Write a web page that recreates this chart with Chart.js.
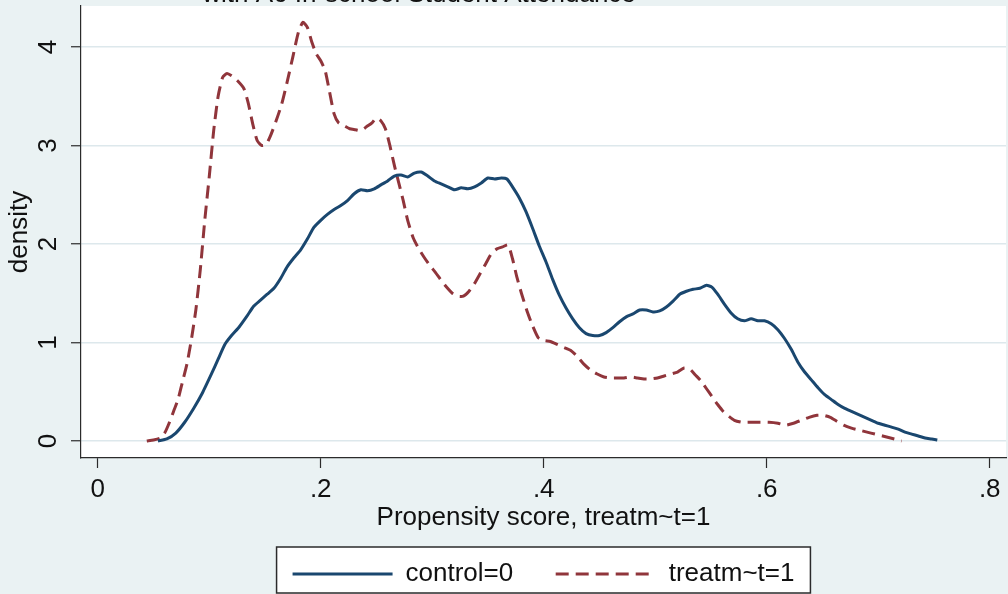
<!DOCTYPE html>
<html>
<head>
<meta charset="utf-8">
<script src="https://cdn.jsdelivr.net/npm/chart.js@4"></script>
<style>
  html, body { margin: 0; padding: 0; background: #eaf2f3; }
  #wrap { width: 1008px; height: 594px; }
</style>
</head>
<body>
<div id="wrap"><canvas id="density_chart" width="1008" height="594"></canvas></div>
<script>
// kernel density of the propensity score
const control_x = [0.054, 0.062, 0.070, 0.078, 0.086, 0.094, 0.102, 0.108, 0.114, 0.120, 0.127, 0.134, 0.140, 0.146, 0.152, 0.158, 0.164, 0.170, 0.176, 0.182, 0.188, 0.194, 0.200, 0.206, 0.212, 0.218, 0.224, 0.230, 0.236, 0.242, 0.248, 0.254, 0.260, 0.266, 0.272, 0.278, 0.284, 0.290, 0.296, 0.302, 0.308, 0.314, 0.320, 0.326, 0.332, 0.338, 0.344, 0.350, 0.356, 0.362, 0.367, 0.372, 0.378, 0.384, 0.390, 0.396, 0.402, 0.408, 0.414, 0.420, 0.426, 0.432, 0.438, 0.444, 0.450, 0.456, 0.462, 0.468, 0.474, 0.480, 0.486, 0.492, 0.498, 0.504, 0.510, 0.516, 0.522, 0.528, 0.534, 0.540, 0.546, 0.551, 0.556, 0.562, 0.568, 0.574, 0.580, 0.586, 0.592, 0.598, 0.604, 0.610, 0.616, 0.622, 0.628, 0.634, 0.640, 0.646, 0.652, 0.658, 0.664, 0.670, 0.676, 0.682, 0.688, 0.694, 0.700, 0.706, 0.712, 0.718, 0.724, 0.730, 0.736, 0.742, 0.748, 0.753];
const control_y = [0.00, 0.02, 0.08, 0.19, 0.33, 0.49, 0.68, 0.83, 0.98, 1.07, 1.16, 1.27, 1.37, 1.43, 1.49, 1.55, 1.65, 1.77, 1.86, 1.94, 2.05, 2.17, 2.24, 2.30, 2.35, 2.39, 2.44, 2.51, 2.55, 2.54, 2.56, 2.60, 2.64, 2.69, 2.70, 2.68, 2.72, 2.73, 2.69, 2.64, 2.61, 2.58, 2.55, 2.57, 2.56, 2.58, 2.62, 2.67, 2.66, 2.67, 2.66, 2.58, 2.47, 2.33, 2.16, 1.98, 1.82, 1.64, 1.48, 1.35, 1.24, 1.15, 1.09, 1.07, 1.07, 1.10, 1.15, 1.21, 1.26, 1.29, 1.33, 1.33, 1.31, 1.32, 1.36, 1.42, 1.49, 1.52, 1.54, 1.55, 1.58, 1.56, 1.49, 1.39, 1.30, 1.24, 1.22, 1.24, 1.22, 1.22, 1.19, 1.13, 1.04, 0.93, 0.80, 0.70, 0.62, 0.54, 0.47, 0.42, 0.37, 0.33, 0.30, 0.27, 0.24, 0.21, 0.18, 0.16, 0.14, 0.12, 0.09, 0.07, 0.05, 0.03, 0.02, 0.01];

const treat_x = [0.044, 0.050, 0.056, 0.060, 0.064, 0.068, 0.072, 0.076, 0.080, 0.084, 0.088, 0.092, 0.096, 0.100, 0.104, 0.108, 0.112, 0.116, 0.121, 0.126, 0.131, 0.135, 0.139, 0.143, 0.147, 0.151, 0.155, 0.160, 0.165, 0.170, 0.175, 0.180, 0.184, 0.188, 0.192, 0.196, 0.200, 0.204, 0.208, 0.212, 0.216, 0.221, 0.226, 0.231, 0.236, 0.241, 0.246, 0.250, 0.254, 0.258, 0.262, 0.266, 0.270, 0.274, 0.278, 0.283, 0.288, 0.293, 0.298, 0.303, 0.308, 0.313, 0.318, 0.323, 0.328, 0.333, 0.338, 0.343, 0.348, 0.353, 0.358, 0.363, 0.368, 0.372, 0.376, 0.380, 0.385, 0.390, 0.395, 0.400, 0.406, 0.412, 0.418, 0.424, 0.430, 0.436, 0.442, 0.448, 0.454, 0.460, 0.466, 0.472, 0.478, 0.484, 0.490, 0.496, 0.502, 0.508, 0.514, 0.520, 0.526, 0.531, 0.536, 0.541, 0.546, 0.551, 0.556, 0.561, 0.566, 0.571, 0.578, 0.586, 0.594, 0.602, 0.610, 0.617, 0.624, 0.631, 0.638, 0.645, 0.651, 0.657, 0.663, 0.669, 0.676, 0.683, 0.690, 0.697, 0.704, 0.711, 0.718, 0.721];
const treat_y = [0.00, 0.01, 0.03, 0.08, 0.18, 0.30, 0.42, 0.60, 0.78, 1.03, 1.33, 1.74, 2.24, 2.68, 3.15, 3.50, 3.69, 3.73, 3.70, 3.65, 3.58, 3.43, 3.22, 3.05, 3.00, 3.01, 3.10, 3.25, 3.42, 3.65, 3.90, 4.15, 4.25, 4.20, 4.05, 3.93, 3.86, 3.76, 3.54, 3.32, 3.23, 3.20, 3.17, 3.16, 3.15, 3.19, 3.23, 3.28, 3.25, 3.17, 3.00, 2.80, 2.62, 2.44, 2.24, 2.06, 1.95, 1.86, 1.78, 1.71, 1.63, 1.56, 1.50, 1.47, 1.47, 1.52, 1.60, 1.70, 1.80, 1.90, 1.95, 1.97, 1.99, 1.85, 1.66, 1.50, 1.32, 1.17, 1.05, 1.02, 1.01, 0.98, 0.95, 0.92, 0.86, 0.78, 0.72, 0.68, 0.65, 0.64, 0.64, 0.64, 0.65, 0.64, 0.63, 0.63, 0.64, 0.66, 0.68, 0.70, 0.74, 0.73, 0.67, 0.61, 0.53, 0.45, 0.37, 0.30, 0.25, 0.21, 0.19, 0.19, 0.19, 0.19, 0.18, 0.16, 0.18, 0.21, 0.24, 0.26, 0.26, 0.24, 0.20, 0.16, 0.13, 0.11, 0.09, 0.07, 0.05, 0.03, 0.01, 0.00];

const series_labels = ['control=0', 'treatm~t=1'];
const x_ticks = [0, 0.2, 0.4, 0.6, 0.8];
const x_tick_labels = ['0', '.2', '.4', '.6', '.8'];
const y_ticks = [0, 1, 2, 3, 4];
const chart_title = 'with A6 In-school Student Attendance';

const font_family = "'Liberation Sans', Arial, Helvetica, sans-serif";
const outer_bg = '#eaf2f3';
const axis_color = '#2b2b2b';

const to_points = (xs, ys) => xs.map((x, i) => ({x: x, y: ys[i]}));

// Stata look: bluish outer region, white plot region, boxed legend, clipped title
const stata_look = {
  id: 'stata_look',
  beforeDraw(chart) {
    const {ctx, chartArea: a} = chart;
    ctx.save();
    ctx.fillStyle = outer_bg;
    ctx.fillRect(0, 0, chart.width, chart.height);
    ctx.fillStyle = '#ffffff';
    ctx.fillRect(a.left, a.top, a.right - a.left, a.bottom - a.top);

    const boxes = chart.legend.legendHitBoxes;
    if (boxes && boxes.length) {
      const left = Math.min(...boxes.map(b => b.left)) - 16;
      const right = Math.max(...boxes.map(b => b.left + b.width)) + 16;
      const mid = boxes[0].top + boxes[0].height / 2;
      ctx.fillStyle = '#ffffff';
      ctx.fillRect(left, mid - 27, right - left, 46);
      ctx.strokeStyle = axis_color;
      ctx.lineWidth = 1.5;
      ctx.strokeRect(left, mid - 27, right - left, 46);
    }

    // title sits mostly above the picture edge
    ctx.fillStyle = '#111111';
    ctx.font = '26px ' + font_family;
    ctx.textAlign = 'center';
    ctx.textBaseline = 'alphabetic';
    ctx.fillText(chart_title, 419, 2);
    ctx.restore();
  }
};

const density_ctx = document.getElementById('density_chart');

const density_config = {
  type: 'line',
  data: {
    datasets: [{
      label: series_labels[0] + '\u00a0\u00a0',
      data: to_points(control_x, control_y),
      borderColor: '#1a476f',
      borderWidth: 3,
      pointRadius: 0,
      tension: 0.2,
      fill: false
    }, {
      label: series_labels[1],
      data: to_points(treat_x, treat_y),
      borderColor: '#90353b',
      borderWidth: 3,
      borderDash: [13, 7],
      pointRadius: 0,
      tension: 0.2,
      fill: false
    }]
  },
  options: {
    responsive: false,
    animation: false,
    layout: { padding: { top: 6, right: 2, bottom: 0, left: 0 } },
    plugins: {
      tooltip: { enabled: false },
      legend: {
        position: 'bottom',
        fullSize: false,
        maxHeight: 61,
        labels: {
          usePointStyle: true,
          pointStyle: 'line',
          pointStyleWidth: 100,
          padding: 28,
          color: '#111111',
          font: { family: font_family, size: 26 },
          generateLabels: chart => {
            const items = Chart.defaults.plugins.legend.labels.generateLabels(chart);
            items.forEach((item, i) => {
              const ds = chart.data.datasets[i];
              item.lineDash = ds.borderDash || [];
              item.strokeStyle = ds.borderColor;
              item.lineWidth = ds.borderWidth;
            });
            return items;
          }
        }
      }
    },
    scales: {
      x: {
        type: 'linear',
        min: -0.015,
        max: 0.8146,
        afterBuildTicks: s => { s.ticks = x_ticks.map(v => ({value: v})); },
        afterFit: s => { s.height = 75; s.paddingLeft = 0; s.paddingRight = 0; },
        ticks: {
          autoSkip: false,
          maxRotation: 0,
          padding: 6,
          color: '#111111',
          font: { family: font_family, size: 26 },
          callback: (v, i) => x_tick_labels[i]
        },
        grid: { drawOnChartArea: false, tickLength: 10, tickColor: axis_color, tickWidth: 1.2 },
        border: { color: axis_color, width: 1.2 },
        title: {
          display: true,
          text: 'Propensity score, treatm~t=1',
          color: '#111111',
          padding: { top: 0, bottom: 0 },
          font: { family: font_family, size: 26 }
        }
      },
      y: {
        type: 'linear',
        min: -0.173,
        max: 4.416,
        afterBuildTicks: s => { s.ticks = y_ticks.map(v => ({value: v})); },
        afterFit: s => { s.width = 81; s.paddingTop = 0; s.paddingBottom = 0; },
        ticks: {
          autoSkip: false,
          minRotation: 90,
          maxRotation: 90,
          crossAlign: 'center',
          padding: 15,
          color: '#111111',
          font: { family: font_family, size: 26 },
          callback: v => String(v)
        },
        grid: { color: '#dde8ec', lineWidth: 1.5, tickLength: 10, tickColor: axis_color, tickWidth: 1.2 },
        border: { color: axis_color, width: 1.2 },
        title: {
          display: true,
          text: 'density',
          color: '#111111',
          padding: { top: 4, bottom: 0 },
          font: { family: font_family, size: 26 }
        }
      }
    }
  },
  plugins: [stata_look]
};

const density_chart = new Chart(density_ctx, density_config);
</script>
</body>
</html>
